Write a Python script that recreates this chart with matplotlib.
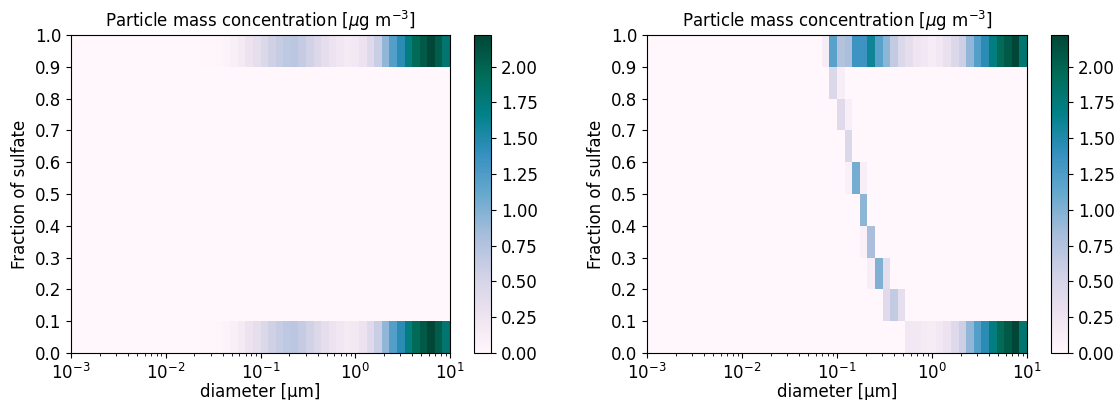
import numpy as np
import matplotlib
matplotlib.use("Agg")
import matplotlib.pyplot as plt

# ---- data ----
n_diam_bins = 50
diam_min, diam_max = 1e-3, 1e1
sulfate_edges = [0.0, 0.1, 0.2, 0.3, 0.4, 0.5, 0.6, 0.7, 0.8, 0.9, 1.0]

# left panel: top row (0.9-1.0) and bottom row (0.0-0.1), bins 17..49
left_first_bin = 17
left_top = [0.01, 0.02, 0.03, 0.06, 0.10, 0.18, 0.28, 0.35, 0.45, 0.55, 0.62,
            0.68, 0.70, 0.64, 0.54, 0.44, 0.35, 0.28, 0.21, 0.18, 0.20, 0.28,
            0.42, 0.60, 0.92, 1.22, 1.45, 1.72, 1.95, 2.08, 2.22, 2.05, 1.82]
left_bottom = [0.01, 0.02, 0.03, 0.06, 0.10, 0.18, 0.28, 0.35, 0.45, 0.55, 0.62,
               0.68, 0.70, 0.64, 0.54, 0.44, 0.35, 0.28, 0.21, 0.18, 0.20, 0.28,
               0.42, 0.60, 0.92, 1.22, 1.45, 1.72, 1.95, 2.08, 2.22, 2.05, 1.82]

# right panel: top row bins 23..49
right_top_first_bin = 23
right_top = [0.15, 1.20, 0.75, 0.80, 1.35, 1.35, 1.60, 1.20, 0.95, 0.65, 0.45,
             0.35, 0.25, 0.20, 0.15, 0.20, 0.30, 0.45, 0.58, 0.92, 1.22, 1.45,
             1.72, 1.95, 2.08, 2.22, 1.82]
# right panel: bottom row bins 34..49
right_bottom_first_bin = 34
right_bottom = [0.20, 0.20, 0.16, 0.15, 0.20, 0.28, 0.42, 0.58, 0.92, 1.22,
                1.45, 1.72, 1.95, 2.08, 2.22, 1.82]
# right panel: middle rows, sulfate row index -> (first bin, values)
right_mid_rows = {
    8: (24, [0.45, 0.12]),
    7: (25, [0.40, 0.12]),
    6: (26, [0.45]),
    5: (26, [0.08, 1.05, 0.12]),
    4: (28, [0.95]),
    3: (28, [0.08, 0.80]),
    2: (29, [0.12, 1.00, 0.35]),
    1: (31, [0.40, 0.65, 0.35]),
}


def build_grid(rows):
    grid = np.zeros((len(sulfate_edges) - 1, n_diam_bins))
    for row, (first, vals) in rows.items():
        grid[row, first:first + len(vals)] = vals
    return grid


left_grid = build_grid({9: (left_first_bin, left_top),
                        0: (left_first_bin, left_bottom)})
right_rows = dict(right_mid_rows)
right_rows[9] = (right_top_first_bin, right_top)
right_rows[0] = (right_bottom_first_bin, right_bottom)
right_grid = build_grid(right_rows)

diam_edges = np.logspace(np.log10(diam_min), np.log10(diam_max), n_diam_bins + 1)

# ---- plot ----
plt.rcParams['font.size'] = 12
fig = plt.figure(figsize=(11.15, 4.0), dpi=100)
W, H = 1115.0, 400.0


def px_axes(x0, x1, y0, y1):
    return fig.add_axes([x0 / W, 1 - y1 / H, (x1 - x0) / W, (y1 - y0) / H])


layouts = [((71, 450), (474, 491), left_grid),
           ((647, 1027), (1051, 1068), right_grid)]

for (ax_x, cb_x, grid) in layouts:
    ax = px_axes(ax_x[0], ax_x[1], 35, 353)
    cax = px_axes(cb_x[0], cb_x[1], 35, 353)
    mesh = ax.pcolormesh(diam_edges, sulfate_edges, grid, cmap='PuBuGn',
                         vmin=0, vmax=2.22, shading='flat')
    ax.set_xscale('log')
    ax.set_xlim(diam_min, diam_max)
    ax.set_ylim(0, 1)
    ax.set_yticks(sulfate_edges)
    ax.set_xlabel('diameter [μm]', labelpad=0)
    ax.set_ylabel('Fraction of sulfate')
    ax.set_title(r'Particle mass concentration [$\mu$g m$^{-3}$]', fontsize=12)
    fig.colorbar(mesh, cax=cax)

fig.savefig('out.png', dpi=100)
